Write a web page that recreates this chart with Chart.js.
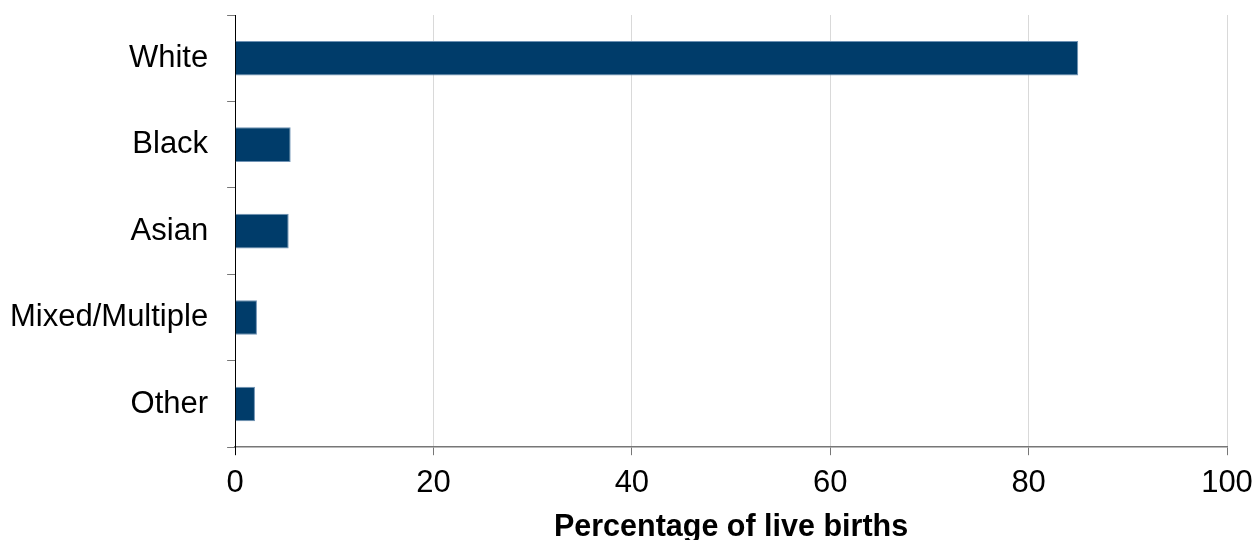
<!DOCTYPE html>
<html>
<head>
<meta charset="utf-8">
<script src="https://cdn.jsdelivr.net/npm/chart.js@4/dist/chart.umd.min.js"></script>
<style>
  html, body { margin: 0; padding: 0; background: #fff; overflow: hidden; }
  body { width: 1253px; height: 540px; }
  #wrap { width: 1253px; height: 546px; position: relative; }
</style>
</head>
<body>
<div id="wrap"><canvas id="birthsChart"></canvas></div>
<script>
// live births by ethnic group
const categories = ["White", "Black", "Asian", "Mixed/Multiple", "Other"];
const percentages = [85.0, 5.6, 5.4, 2.2, 2.0];
const xMin = 0;
const xMax = 100;
const xStep = 20;
const xTitle = "Percentage of live births";

const barColor = "#003C6A";

Chart.defaults.font.family = "'Liberation Sans', Arial, sans-serif";
Chart.defaults.color = "#000";

const ctx = document.getElementById("birthsChart").getContext("2d");

new Chart(ctx, {
  type: "bar",
  data: {
    labels: categories,
    datasets: [{
      data: percentages,
      backgroundColor: barColor,
      borderColor: "#6f92b4",
      borderWidth: 1,
      borderSkipped: "start",
      barPercentage: 0.4,
      categoryPercentage: 1.0
    }]
  },
  options: {
    indexAxis: "y",
    responsive: true,
    maintainAspectRatio: false,
    animation: false,
    layout: { padding: { left: -9, top: 15, right: 0, bottom: 0 } },
    plugins: {
      legend: { display: false },
      tooltip: { enabled: false }
    },
    scales: {
      x: {
        min: xMin,
        max: xMax,
        afterFit: (scale) => { scale.paddingRight = 26; },
        ticks: {
          stepSize: xStep,
          padding: 10,
          font: { size: 31 }
        },
        grid: {
          color: "#d9d9d9",
          // the y axis line runs on past the x axis
          tickColor: (c) => c.index === 0 ? "#000" : "#777",
          tickLength: 8,
          lineWidth: 1
        },
        border: { color: "#777", width: 1.5 },
        title: {
          display: true,
          text: xTitle,
          font: { size: 30.5, weight: "bold" },
          padding: { top: -3, bottom: 0 }
        }
      },
      y: {
        offset: true,
        afterFit: (scale) => { scale.paddingTop = 0; scale.paddingBottom = 0; },
        ticks: {
          padding: 19,
          font: { size: 31 }
        },
        grid: {
          offset: true,
          drawOnChartArea: false,
          color: "#777",
          tickLength: 8
        },
        border: { color: "#000", width: 1 }
      }
    }
  }
});
</script>
</body>
</html>
